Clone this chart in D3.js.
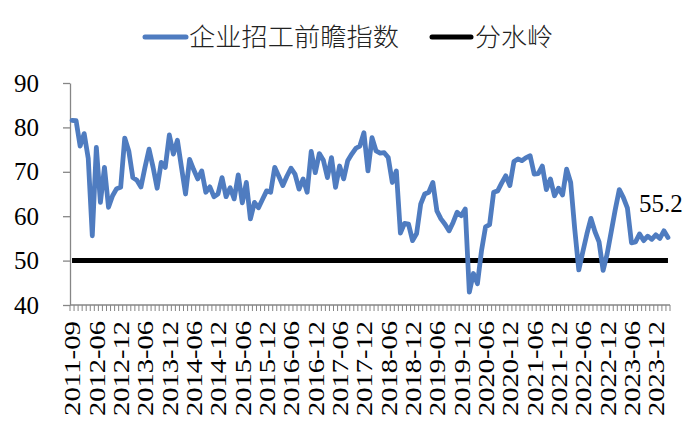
<!DOCTYPE html>
<html>
<head>
<meta charset="utf-8">
<script src="https://cdn.jsdelivr.net/npm/d3@7"></script>
<style>
  html, body { margin: 0; padding: 0; background: #ffffff; }
  svg { display: block; }
</style>
</head>
<body>
<script>
// ---------- data ----------
const seriesName = "企业招工前瞻指数";
const thresholdName = "分水岭";
const thresholdValue = 50;
const lastLabel = "55.2";

const startCategories = ["2011-09", "2011-12", "2012-02", "2012-03", "2012-04", "2012-05"];
const monthlyStart = [2012, 6];
const monthlyEnd = [2024, 3];

const tickLabels = ["2011-09","2012-06","2012-12","2013-06","2013-12","2014-06","2014-12",
  "2015-06","2015-12","2016-06","2016-12","2017-06","2017-12","2018-06","2018-12",
  "2019-06","2019-12","2020-06","2020-12","2021-06","2021-12","2022-06","2022-12",
  "2023-06","2023-12"];

const yTicks = [40, 50, 60, 70, 80, 90];

const values = [
  81.6,81.5,75.8,78.6,73,55.6,75.5,63.1,71,62,
  64.6,66.2,66.5,77.6,74.7,68.7,68.1,66.6,71,75.1,
  71,66.3,72.1,71,78.3,74,77.1,71,65,72.8,
  70.5,68.4,70.2,65.4,66.6,64.4,65,68.7,64.4,66.4,
  63.9,69.3,63,67.6,59.4,63.1,61.9,63.8,65.7,65.4,
  71,69,66.9,69,70.8,69.5,66.1,68.4,65.4,74.6,
  69.8,74.1,72.6,68.7,73.2,66.5,71.3,68.4,72.5,74,
  75.3,75.8,78.8,70.2,77.7,74.7,74.2,74.3,73.2,67.6,
  70.2,56.2,58.4,58.2,54.5,56.1,62.7,65,65.4,67.6,
  61.2,59.4,58.2,56.7,58.6,60.9,60.1,61.6,42.9,47.1,
  44.8,52.2,57.6,58.1,65.4,65.7,67.5,69.1,66.9,72.3,
  72.9,72.5,73.2,73.6,69.5,69.6,71.3,66,68.4,64.6,
  66.3,64.8,70.6,67.6,57.1,47.9,52,56,59.5,56.5,
  54.2,47.8,51.5,56.5,61.5,66,64.2,61.8,54,54.2,
  56,54.5,55.5,54.8,55.8,55,56.7,55.2
];

// build category list (month strings)
const categories = startCategories.slice();
{
  let [yy, mm] = monthlyStart;
  while (yy < monthlyEnd[0] || (yy === monthlyEnd[0] && mm <= monthlyEnd[1])) {
    categories.push(yy + "-" + String(mm).padStart(2, "0"));
    mm++; if (mm > 12) { mm = 1; yy++; }
  }
}

// ---------- chart ----------
const W = 700, H = 447;
const svg = d3.select("body").append("svg").attr("width", W).attr("height", H);

const x = d3.scaleBand().domain(categories).range([70, 670]).padding(0);
const bw = x.bandwidth();
const cx = c => x(c) + bw / 2;
const y = d3.scaleLinear().domain([40, 90]).range([305, 83]);

const serif = "'Liberation Serif', 'Times New Roman', serif";
const cjk = "'Noto Sans CJK SC', sans-serif";
const axisColor = "#868686";

// Y axis
const yAxis = d3.axisLeft(y).tickValues(yTicks).tickSize(7).tickSizeOuter(0).tickPadding(24);
const gy = svg.append("g").attr("transform", "translate(70,0)").call(yAxis);
gy.select(".domain").attr("stroke", axisColor).attr("stroke-width", 1.3);
gy.selectAll(".tick line").attr("stroke", axisColor).attr("stroke-width", 1.3);
gy.selectAll(".tick text").attr("font-family", serif).attr("font-size", 25).attr("fill", "#000");

// X axis line + minor ticks at category boundaries
const boundaries = categories.map(c => x(c)).concat([x(categories[categories.length - 1]) + bw]);
const gx = svg.append("g");
gx.append("line").attr("x1", 70).attr("x2", 670).attr("y1", y(40)).attr("y2", y(40))
  .attr("stroke", axisColor).attr("stroke-width", 1.3);
gx.selectAll("line.mt").data(boundaries).join("line").attr("class", "mt")
  .attr("x1", d => d).attr("x2", d => d).attr("y1", y(40)).attr("y2", y(40) + 6)
  .attr("stroke", axisColor).attr("stroke-width", 1);

// X tick labels
gx.selectAll("text.xl").data(tickLabels).join("text").attr("class", "xl")
  .attr("transform", d => `translate(${cx(d)},321) rotate(-90)`)
  .attr("text-anchor", "end")
  .attr("dy", "0.35em")
  .attr("font-family", serif).attr("font-size", 24).attr("fill", "#000")
  .attr("textLength", 95).attr("lengthAdjust", "spacingAndGlyphs")
  .text(d => d);

// Threshold line
svg.append("line")
  .attr("x1", cx(categories[0])).attr("x2", cx(categories[categories.length - 1]))
  .attr("y1", y(thresholdValue)).attr("y2", y(thresholdValue))
  .attr("stroke", "#000").attr("stroke-width", 5);

// Main series
const line = d3.line().x((d, i) => cx(categories[i])).y(d => y(d));
svg.append("path").datum(values).attr("d", line)
  .attr("fill", "none").attr("stroke", "#4F7CC0").attr("stroke-width", 4.8)
  .attr("stroke-linejoin", "round").attr("stroke-linecap", "round");

// Last value label
svg.append("text").attr("x", 639).attr("y", 212)
  .attr("font-family", serif).attr("font-size", 25).attr("fill", "#000")
  .text(lastLabel);

// Legend
const lg = svg.append("g");
lg.append("line").attr("x1", 145).attr("x2", 186).attr("y1", 37).attr("y2", 37)
  .attr("stroke", "#4F7CC0").attr("stroke-width", 5).attr("stroke-linecap", "round");
lg.append("text").attr("x", 189).attr("y", 37).attr("dy", "0.36em")
  .attr("font-family", cjk).attr("font-size", 25).attr("font-weight", 300).attr("fill", "#222")
  .attr("textLength", 210).attr("lengthAdjust", "spacingAndGlyphs")
  .text(seriesName);
lg.append("line").attr("x1", 432).attr("x2", 471).attr("y1", 37).attr("y2", 37)
  .attr("stroke", "#000").attr("stroke-width", 5).attr("stroke-linecap", "round");
lg.append("text").attr("x", 475).attr("y", 37).attr("dy", "0.36em")
  .attr("font-family", cjk).attr("font-size", 25).attr("font-weight", 300).attr("fill", "#222")
  .attr("textLength", 78).attr("lengthAdjust", "spacingAndGlyphs")
  .text(thresholdName);
</script>
</body>
</html>
